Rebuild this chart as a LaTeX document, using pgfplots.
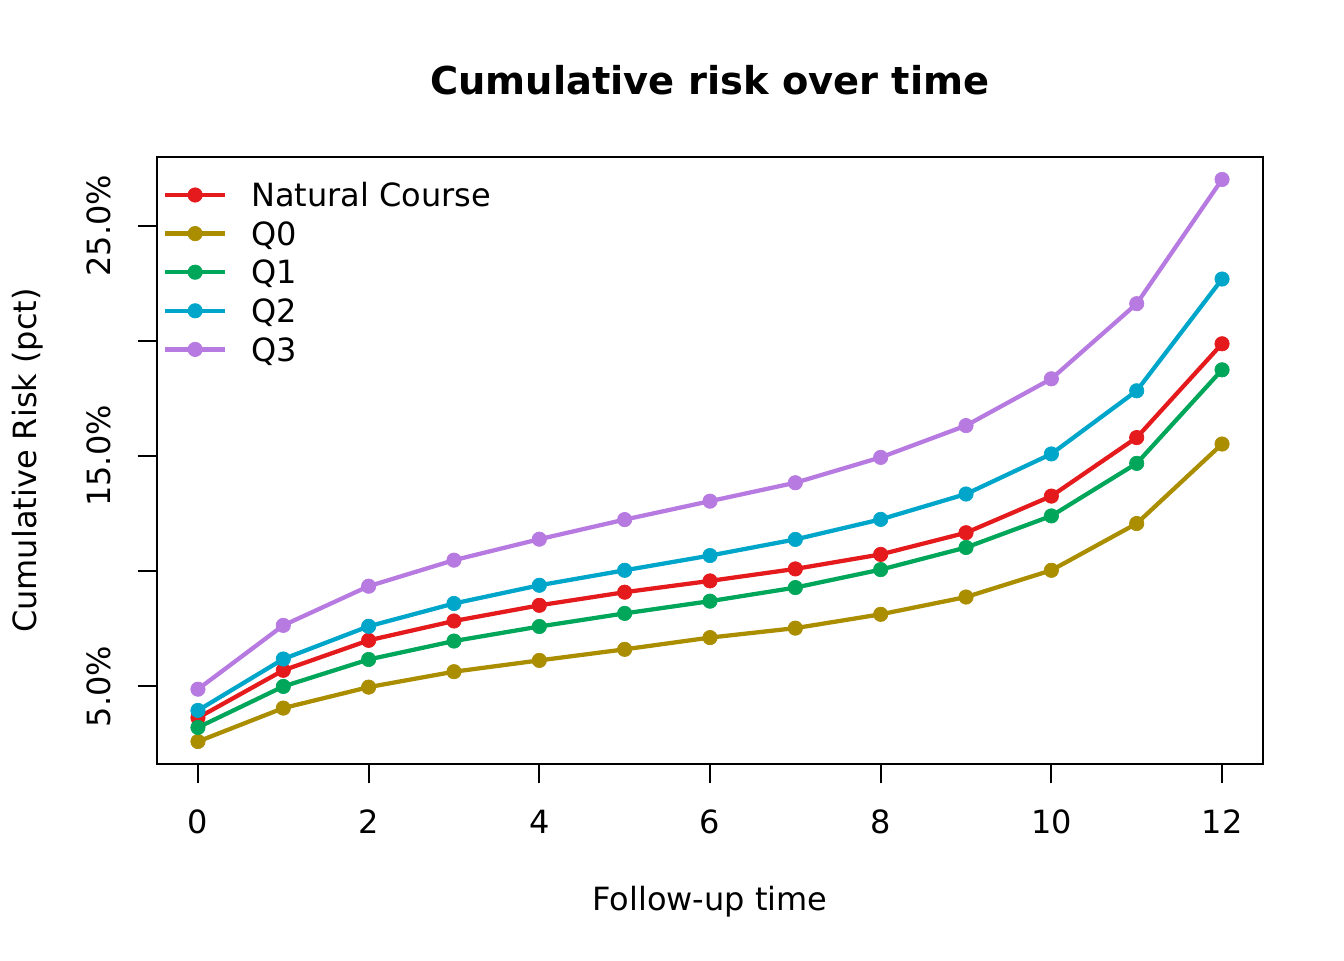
\documentclass[border=0pt]{standalone}
\usepackage{pgfplots}
\pgfplotsset{compat=1.18}
\usepackage{fontspec}
\setmainfont{DejaVu Sans}
\definecolor{cNC}{HTML}{E41A1C}
\definecolor{cQ0}{HTML}{AB8D00}
\definecolor{cQ1}{HTML}{00A65A}
\definecolor{cQ2}{HTML}{00A6CA}
\definecolor{cQ3}{HTML}{B77AE0}
\begin{document}
\begin{tikzpicture}
\path[use as bounding box] (0,0) rectangle (1008pt,720pt);
\begin{axis}[
  at={(117.75pt,147pt)}, anchor=south west,
  scale only axis, width=829.5pt, height=455.25pt,
  xmin=-0.48, xmax=12.48, ymin=1.634, ymax=27.976,
  axis line style={line width=1.5pt},
  every tick/.style={line width=1.5pt, black},
  tick align=outside, major tick length=14.5pt,
  xtick={0,2,4,6,8,10,12}, xticklabels={0,2,4,6,8,10,12},
  ytick={5,10,15,20,25}, yticklabels={5.0\%,,15.0\%,,25.0\%},
  xtick pos=bottom, ytick pos=left,
  tick label style={font=\fontsize{24}{28}\selectfont, inner sep=0pt},
  xticklabel style={anchor=base},
  yticklabel style={rotate=90, anchor=base},
  xticklabel shift=37.25pt, yticklabel shift=20.75pt,
  title={\bfseries Cumulative risk over time},
  title style={font=\fontsize{28.8}{34}\selectfont, at={([yshift=40.75pt]axis description cs:0.5,1)}, anchor=base, inner sep=0pt},
  xlabel={Follow-up time},
  xlabel style={font=\fontsize{24}{28}\selectfont, at={([yshift=-109.5pt]axis description cs:0.5,0)}, anchor=base, inner sep=0pt},
  ylabel={Cumulative Risk (pct)},
  ylabel style={font=\fontsize{24}{28}\selectfont, at={([xshift=-90pt]axis description cs:0,0.5)}, rotate=0, anchor=base, inner sep=0pt},
  legend cell align=left,
  legend image code/.code={\draw[#1, mark repeat=2, mark phase=2] plot coordinates {(0pt,8.75pt) (22.5pt,8.75pt) (45pt,8.75pt)};},
  legend style={at={(axis description cs:0,1)}, anchor=north west, xshift=4.5pt, yshift=-20.25pt,
    draw=none, fill=none, inner sep=0pt, outer sep=0pt, row sep=5.95pt, column sep=18pt,
    font=\fontsize{24}{28}\selectfont,
    nodes={inner sep=0pt, text height=17pt, text depth=6pt, anchor=base west}},
  every axis plot/.append style={line width=3.2pt, mark=*, mark size=5.4pt, mark options={solid, line width=0.5pt}},
]
\addplot[cNC] coordinates {(0,3.64)(1,5.70)(2,7.00)(3,7.84)(4,8.52)(5,9.09)(6,9.58)(7,10.10)(8,10.73)(9,11.67)(10,13.26)(11,15.80)(12,19.87)};
\addlegendentry{Natural Course}
\addplot[cQ0] coordinates {(0,2.61)(1,4.06)(2,4.97)(3,5.64)(4,6.13)(5,6.61)(6,7.12)(7,7.53)(8,8.13)(9,8.88)(10,10.04)(11,12.07)(12,15.52)};
\addlegendentry{Q0}
\addplot[cQ1] coordinates {(0,3.22)(1,5.00)(2,6.17)(3,6.97)(4,7.60)(5,8.17)(6,8.70)(7,9.29)(8,10.07)(9,11.03)(10,12.40)(11,14.68)(12,18.74)};
\addlegendentry{Q1}
\addplot[cQ2] coordinates {(0,3.96)(1,6.19)(2,7.61)(3,8.60)(4,9.39)(5,10.04)(6,10.68)(7,11.38)(8,12.25)(9,13.35)(10,15.09)(11,17.83)(12,22.68)};
\addlegendentry{Q2}
\addplot[cQ3] coordinates {(0,4.88)(1,7.65)(2,9.35)(3,10.48)(4,11.39)(5,12.24)(6,13.04)(7,13.84)(8,14.94)(9,16.32)(10,18.35)(11,21.61)(12,27.0)};
\addlegendentry{Q3}
\end{axis}
\end{tikzpicture}
\end{document}
